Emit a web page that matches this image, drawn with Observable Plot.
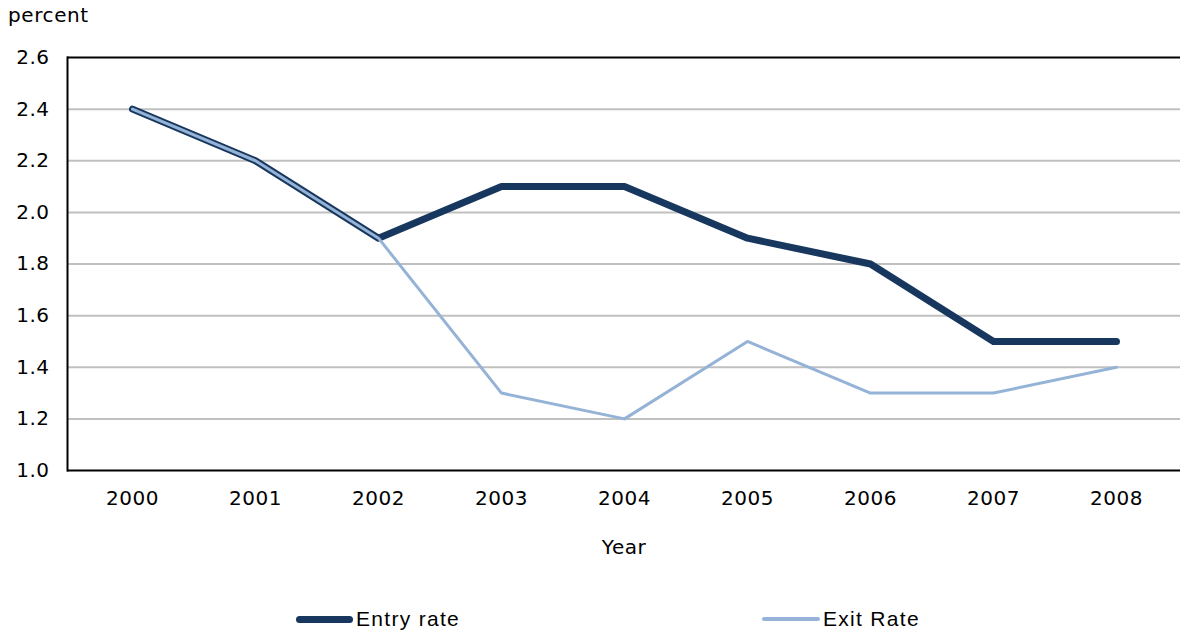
<!DOCTYPE html>
<html>
<head>
<meta charset="utf-8">
<script src="https://cdn.jsdelivr.net/npm/d3@7"></script>
<script src="https://cdn.jsdelivr.net/npm/@observablehq/plot@0.6"></script>
<style>
  html, body { margin: 0; padding: 0; background: #fff; }
  #wrap { position: relative; width: 1180px; height: 635px; font-family: "DejaVu Sans", Verdana, sans-serif; }
  #unit { position: absolute; left: 8px; top: 3px; font-size: 20px; letter-spacing: 0.6px; color: #000; }
  #chart { position: absolute; left: 0; top: 0; }
  .legend { position: absolute; top: 607px; display: flex; align-items: center; font-family: "Liberation Sans Narrow", "Liberation Sans", sans-serif; font-size: 21px; letter-spacing: 1.3px; color: #000; }
  .legend .sw { display: inline-block; border-radius: 4px; margin-right: 3px; }
</style>
</head>
<body>
<div id="wrap">
  <div id="chart"></div>
  <div id="unit">percent</div>
  <div class="legend" style="left:296px"><span class="sw" style="width:57px;height:7px;background:#17375e"></span>Entry rate</div>
  <div class="legend" style="left:762px"><span class="sw" style="width:58px;height:4px;background:#95b3d7"></span>Exit Rate</div>
</div>
<script>
const years = ["2000", "2001", "2002", "2003", "2004", "2005", "2006", "2007", "2008"];
const entryRate = [2.4, 2.2, 1.9, 2.1, 2.1, 1.9, 1.8, 1.5, 1.5];
const exitRate = [2.4, 2.2, 1.9, 1.3, 1.2, 1.5, 1.3, 1.3, 1.4];
const yTicks = [1.0, 1.2, 1.4, 1.6, 1.8, 2.0, 2.2, 2.4, 2.6];
const gridTicks = [1.2, 1.4, 1.6, 1.8, 2.0, 2.2, 2.4];

const entry = years.map((year, i) => ({year, value: entryRate[i]}));
const exit = years.map((year, i) => ({year, value: exitRate[i]}));

const chart = Plot.plot({
  width: 1180,
  height: 565,
  marginLeft: 67,
  marginRight: 0,
  marginTop: 57,
  marginBottom: 95,
  style: {fontFamily: "DejaVu Sans, Verdana, sans-serif", fontSize: "20px", letterSpacing: "0.5px", color: "#000", background: "transparent"},
  x: {type: "point", domain: years, padding: 0.5, label: null},
  y: {domain: [1.0, 2.6], label: null},
  marks: [
    Plot.ruleY(gridTicks, {stroke: "#c0c0c0", strokeWidth: 2}),
    Plot.ruleY([1.0, 2.6], {stroke: "#000", strokeWidth: 2}),
    Plot.frame({anchor: "left", stroke: "#000", strokeWidth: 2}),
    Plot.axisY({ticks: yTicks, tickSize: 0, tickPadding: 18, tickFormat: d3.format(".1f"), label: null}),
    Plot.axisX({tickSize: 0, tickPadding: 20, label: null}),
    Plot.text(["Year"], {frameAnchor: "bottom", dy: 83, fontSize: 20}),
    Plot.line(entry, {x: "year", y: "value", stroke: "#17375e", strokeWidth: 7, strokeLinejoin: "round", strokeLinecap: "round"}),
    Plot.line(exit, {x: "year", y: "value", stroke: "#95b3d7", strokeWidth: 3, strokeLinejoin: "round", strokeLinecap: "round"})
  ]
});
document.getElementById("chart").appendChild(chart);
</script>
</body>
</html>
